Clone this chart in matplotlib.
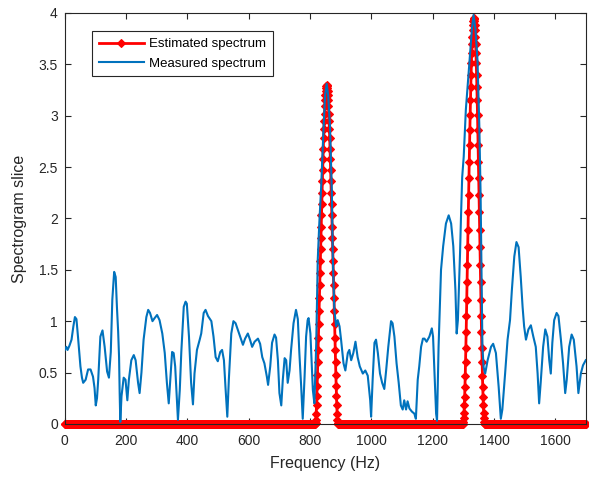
import matplotlib
matplotlib.use("Agg")
import matplotlib.pyplot as plt
import numpy as np

plt.rcParams['font.family'] = ['Liberation Sans', 'DejaVu Sans']

# measured spectrum
meas_freq = [0, 5, 9, 15, 22, 28, 33, 38, 43, 47, 51, 56, 60, 68, 76, 84, 92, 97, 101, 105,
             109, 116, 123, 130, 138, 144, 150, 155, 161, 166, 170, 174, 177, 179, 181, 185,
             192, 198, 204, 209, 217, 225, 231, 239, 244, 250, 257, 266, 272, 278, 286, 293,
             301, 309, 318, 326, 333, 339, 344, 350, 355, 360, 366, 369, 375, 380, 388, 394,
             398, 405, 412, 418, 423, 431, 440, 445, 453, 459, 467, 478, 485, 492, 499, 507,
             513, 519, 524, 530, 535, 543, 550, 557, 565, 572, 581, 588, 597, 604, 611, 619,
             630, 637, 644, 651, 659, 663, 670, 676, 684, 689, 695, 700, 706, 711, 717, 722,
             727, 733, 738, 746, 754, 760, 765, 771, 776, 782, 787, 792, 795, 801, 809, 814,
             820, 825, 830, 836, 844, 849, 854, 859, 865, 871, 874, 879, 885, 890, 896, 901,
             909, 915, 923, 928, 934, 941, 948, 955, 962, 972, 980, 988, 996, 999, 1004, 1010,
             1015, 1021, 1028, 1035, 1042, 1048, 1055, 1064, 1069, 1075, 1082, 1089, 1096, 1102,
             1107, 1113, 1118, 1124, 1132, 1140, 1145, 1151, 1156, 1162, 1168, 1173, 1180, 1189,
             1197, 1201, 1207, 1211, 1214, 1219, 1227, 1234, 1243, 1252, 1260, 1267, 1274, 1278,
             1282, 1289, 1292, 1296, 1301, 1308, 1317, 1322, 1328, 1333, 1339, 1346, 1352, 1356,
             1359, 1362, 1366, 1371, 1379, 1390, 1397, 1406, 1415, 1422, 1427, 1436, 1444, 1452,
             1458, 1466, 1473, 1480, 1487, 1493, 1498, 1504, 1512, 1520, 1528, 1536, 1542, 1547,
             1552, 1560, 1567, 1574, 1580, 1585, 1590, 1596, 1604, 1610, 1618, 1625, 1632, 1637,
             1645, 1653, 1660, 1669, 1675, 1683, 1690, 1699]
meas_val = [0.72, 0.75, 0.72, 0.76, 0.82, 0.95, 1.04, 1.02, 0.85, 0.70, 0.56, 0.45, 0.40, 0.43,
            0.53, 0.53, 0.46, 0.35, 0.18, 0.25, 0.43, 0.85, 0.91, 0.75, 0.51, 0.45, 0.70, 1.21,
            1.48, 1.43, 1.14, 0.90, 0.65, 0.30, 0.02, 0.27, 0.45, 0.43, 0.23, 0.43, 0.62, 0.67,
            0.62, 0.40, 0.30, 0.50, 0.82, 1.04, 1.11, 1.08, 1.00, 1.03, 1.06, 1.01, 0.88, 0.69,
            0.40, 0.20, 0.43, 0.70, 0.69, 0.56, 0.20, 0.04, 0.33, 0.70, 1.14, 1.19, 1.17, 0.85,
            0.40, 0.19, 0.49, 0.72, 0.82, 0.88, 1.08, 1.11, 1.05, 1.00, 0.85, 0.65, 0.61, 0.70,
            0.72, 0.62, 0.36, 0.07, 0.43, 0.88, 1.00, 0.98, 0.91, 0.85, 0.77, 0.83, 0.88, 0.82,
            0.75, 0.80, 0.83, 0.78, 0.65, 0.59, 0.46, 0.38, 0.56, 0.79, 0.87, 0.84, 0.62, 0.30,
            0.18, 0.43, 0.64, 0.62, 0.40, 0.52, 0.72, 0.98, 1.11, 1.02, 0.69, 0.36, 0.05, 0.46,
            0.85, 1.01, 1.03, 0.88, 0.33, 0.20, 0.78, 1.60, 1.95, 2.30, 2.89, 3.20, 3.31, 3.20,
            2.89, 2.25, 1.63, 1.11, 0.95, 1.01, 0.95, 0.82, 0.59, 0.52, 0.69, 0.72, 0.62, 0.69,
            0.80, 0.65, 0.56, 0.49, 0.52, 0.47, 0.23, 0.07, 0.43, 0.79, 0.82, 0.69, 0.49, 0.40,
            0.34, 0.52, 0.75, 1.00, 0.98, 0.85, 0.59, 0.40, 0.18, 0.14, 0.23, 0.14, 0.22, 0.15,
            0.12, 0.10, 0.05, 0.43, 0.56, 0.75, 0.83, 0.83, 0.80, 0.85, 0.93, 0.85, 0.40, 0.10,
            0.03, 0.75, 1.50, 1.73, 1.95, 2.03, 1.95, 1.73, 1.30, 0.88, 1.01, 1.66, 2.00, 2.40,
            2.60, 3.06, 3.41, 3.60, 3.85, 3.98, 3.85, 3.54, 2.89, 2.25, 1.50, 0.75, 0.55, 0.49,
            0.62, 0.75, 0.78, 0.69, 0.36, 0.05, 0.14, 0.49, 0.82, 1.01, 1.30, 1.63, 1.77, 1.72,
            1.43, 1.14, 0.95, 0.82, 0.92, 0.96, 0.85, 0.75, 0.49, 0.20, 0.40, 0.75, 0.92, 0.85,
            0.62, 0.49, 0.79, 1.01, 1.08, 1.05, 0.82, 0.59, 0.30, 0.43, 0.75, 0.87, 0.82, 0.56,
            0.30, 0.49, 0.57, 0.62]

# estimated spectrum: zero everywhere except two peaks (1 Hz grid)
est_freq = np.arange(0, 1701)
peak1_start = 818
peak1_val = [0.01, 0.04, 0.10, 0.18, 0.27, 0.37, 0.48, 0.60, 0.72, 0.84, 0.97, 1.10, 1.23,
             1.35, 1.47, 1.59, 1.70, 1.81, 1.92, 2.03, 2.14, 2.25, 2.36, 2.47, 2.58, 2.68,
             2.78, 2.87, 2.95, 3.02, 3.09, 3.15, 3.20, 3.24, 3.27, 3.29, 3.30, 3.29, 3.27,
             3.24, 3.20, 3.15, 3.09, 3.02, 2.95, 2.87, 2.78, 2.68, 2.58, 2.47, 2.36, 2.25,
             2.14, 2.03, 1.92, 1.81, 1.70, 1.59, 1.47, 1.35, 1.23, 1.10, 0.97, 0.84, 0.72,
             0.60, 0.48, 0.37, 0.27, 0.18, 0.10, 0.04, 0.01]
peak2_start = 1300
peak2_val = [0.02, 0.06, 0.11, 0.18, 0.26, 0.36, 0.47, 0.60, 0.74, 0.89, 1.05, 1.21, 1.38,
             1.55, 1.72, 1.89, 2.06, 2.23, 2.39, 2.55, 2.71, 2.86, 3.01, 3.15, 3.28, 3.40,
             3.51, 3.61, 3.70, 3.77, 3.83, 3.88, 3.92, 3.94, 3.95, 3.94, 3.92, 3.88, 3.83,
             3.77, 3.70, 3.61, 3.51, 3.40, 3.28, 3.15, 3.01, 2.86, 2.71, 2.55, 2.39, 2.23,
             2.06, 1.89, 1.72, 1.55, 1.38, 1.21, 1.05, 0.89, 0.74, 0.60, 0.47, 0.36, 0.26,
             0.18, 0.11, 0.06, 0.02]

est_val = np.zeros(len(est_freq))
est_val[peak1_start:peak1_start + len(peak1_val)] = peak1_val
est_val[peak2_start:peak2_start + len(peak2_val)] = peak2_val

fig = plt.figure(figsize=(5.89, 4.79), dpi=100)
ax = fig.add_axes([0.110, 0.115, 0.885, 0.858])

ax.plot(est_freq, est_val, color='red', lw=2, marker='D', markersize=4.5,
        markeredgewidth=0.8, label='Estimated spectrum', clip_on=False, zorder=2)
ax.plot(meas_freq, meas_val, color='#0072BD', lw=1.5, label='Measured spectrum', zorder=3)

ax.set_xlim(0, 1700)
ax.set_ylim(0, 4)
ax.set_xticks(np.arange(0, 1601, 200))
ax.set_yticks(np.arange(0, 4.01, 0.5))
ax.set_yticklabels(['0', '0.5', '1', '1.5', '2', '2.5', '3', '3.5', '4'])

gray = '#262626'
for s in ax.spines.values():
    s.set_color(gray)
    s.set_linewidth(0.8)
ax.tick_params(direction='in', top=True, right=True, colors=gray, labelsize=10, length=4)
ax.tick_params(axis='x', pad=7)
ax.tick_params(axis='y', pad=5)
ax.set_xlabel('Frequency (Hz)', fontsize=11.5, color=gray, labelpad=6)
ax.set_ylabel('Spectrogram slice', fontsize=11.5, color=gray, labelpad=8)

leg = ax.legend(loc='upper left', bbox_to_anchor=(0.040, 0.971), fontsize=9.5,
                handlelength=3.4, handletextpad=0.4, borderpad=0.5, labelspacing=0.55,
                fancybox=False, framealpha=1, edgecolor=gray)
leg.get_frame().set_linewidth(0.8)

plt.savefig('out.png', dpi=100)
plt.close()
